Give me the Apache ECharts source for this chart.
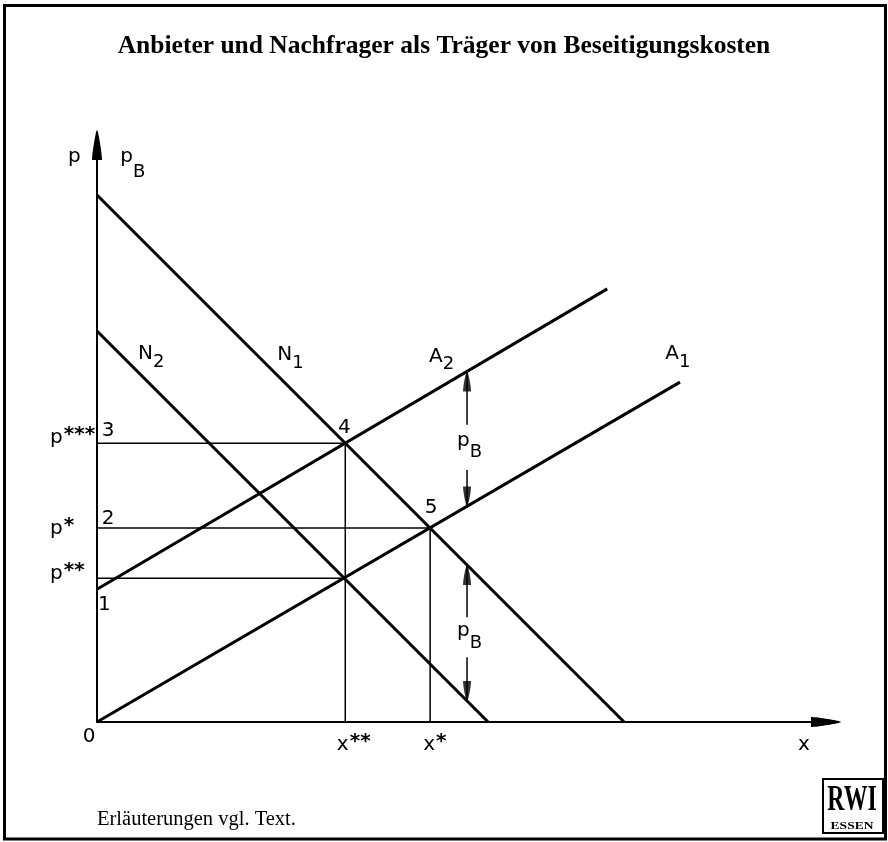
<!DOCTYPE html>
<html>
<head>
<meta charset="utf-8">
<title>Anbieter und Nachfrager als Träger von Beseitigungskosten</title>
<script src="https://cdn.jsdelivr.net/npm/echarts@6/dist/echarts.min.js"></script>
<style>
html, body { margin: 0; padding: 0; background: #fff; }
#chart { width: 888px; height: 842px; }
</style>
</head>
<body>
<div id="chart"></div>
<script>
// Nachfragekurven N1, N2 und Angebotskurven A1, A2 (Endpunkte in x/p-Einheiten)
const curveN1 = [[0, 10.0], [10.0, 0]];
const curveN2 = [[0, 7.42], [7.42, 0]];
const curveA1 = [[0, 0], [11.06, 6.45]];
const curveA2 = [[0, 2.52], [9.68, 8.22]];

// Schnittpunkte: 4 (A2/N1), 5 (A1/N1), A1/N2 und 1 (A2 auf der p-Achse)
const pointFour = [4.71, 5.29];
const pointFive = [6.32, 3.68];
const pointLow  = [4.71, 2.73];
const pointOne  = [0, 2.52];

// Pfeile für die Beseitigungskosten pB: [Schaftanfang, Spitze]
const feeArrows = [
  [[7.02, 5.64], [7.02, 6.65]],
  [[7.02, 4.78], [7.02, 4.09]],
  [[7.02, 1.99], [7.02, 2.98]],
  [[7.02, 1.23], [7.02, 0.40]]
];

// Achsenlänge bis zur Pfeilbasis (x/p-Einheiten)
const xAxisMax = 13.83;
const yAxisMax = 10.95;

const BLACK = '#000';
const FONT = '"DejaVu Sans", sans-serif';
const SERIF = '"Liberation Serif", "Times New Roman", serif';
const arrowHead = 'path://M5,0 C6.2,0 10,24 10,30 L0,30 C0,24 3.8,0 5,0 Z';

function segment(data, width, z) {
  return {
    type: 'line', data: data, symbol: 'none', silent: true, animation: false,
    z: z || 2, clip: false, lineStyle: { color: BLACK, width: width, cap: 'butt' }
  };
}

const series = [
  segment(curveN1, 3, 3),
  segment(curveN2, 3, 3),
  segment(curveA1, 3, 3),
  segment(curveA2, 3, 3),
  // Hilfslinien zu den Achsen
  segment([[0, pointFour[1]], pointFour], 1.5),
  segment([[pointFour[0], 0], pointFour], 1.5),
  segment([[0, pointFive[1]], pointFive], 1.5),
  segment([[pointFive[0], 0], pointFive], 1.5),
  segment([[0, pointLow[1]], pointLow], 1.5)
];
feeArrows.forEach(a => series.push(segment(a, 1.5)));
series.push({
  type: 'scatter', silent: true, animation: false, clip: false, z: 4,
  symbol: 'path://M5,0 C5.8,0 8,14 8,20 L2,20 C2,14 4.2,0 5,0 Z',
  symbolSize: [8, 20],
  itemStyle: { color: BLACK },
  data: feeArrows.map(a => {
    const up = a[1][1] > a[0][1];
    return { value: a[1], symbolRotate: up ? 0 : 180, symbolOffset: [0, up ? 10 : -10] };
  })
});

const chart = echarts.init(document.getElementById('chart'), null, { renderer: 'canvas' });

const axisCommon = {
  type: 'value', min: 0,
  axisTick: { show: false }, axisLabel: { show: false }, splitLine: { show: false }
};

chart.setOption({
  backgroundColor: '#fff',
  animation: false,
  grid: { left: 97, right: 62, top: 145, bottom: 120, containLabel: false },
  xAxis: Object.assign({}, axisCommon, {
    max: xAxisMax,
    axisLine: { show: true, onZero: false, symbol: ['none', arrowHead], symbolSize: [11, 30],
      lineStyle: { color: BLACK, width: 2 } }
  }),
  yAxis: Object.assign({}, axisCommon, {
    max: yAxisMax,
    axisLine: { show: true, onZero: false, symbol: ['none', arrowHead], symbolSize: [12, 30],
      lineStyle: { color: BLACK, width: 2 } }
  }),
  series: series
});

// Beschriftungen: Anker in x/p-Einheiten (linker Rand, Mitte der Schrift)
const annotations = [
  { t: 'p', at: [-0.55, 10.72] },
  { t: 'p', sub: 'B', at: [0.44, 10.72], subDy: 15 },
  { t: 'N', sub: '2', at: [0.78, 6.98] },
  { t: 'N', sub: '1', at: [3.42, 6.96] },
  { t: 'A', sub: '2', at: [6.30, 6.94] },
  { t: 'A', sub: '1', at: [10.78, 6.98] },
  { t: '3', at: [0.09, 5.52] },
  { t: '4', at: [4.57, 5.58] },
  { t: '2', at: [0.09, 3.85] },
  { t: '5', at: [6.22, 4.06] },
  { t: '1', at: [0.02, 2.22] },
  { t: 'p', sup: '***', at: [-0.89, 5.39] },
  { t: 'p', sup: '*', at: [-0.89, 3.66] },
  { t: 'p', sup: '**', at: [-0.89, 2.82] },
  { t: '0', at: [-0.27, -0.28] },
  { t: 'x', sup: '**', at: [4.55, -0.43] },
  { t: 'x', sup: '*', at: [6.19, -0.43] },
  { t: 'x', at: [13.30, -0.43] },
  { t: 'p', sub: 'B', at: [6.83, 5.33], subDy: 11 },
  { t: 'p', sub: 'B', at: [6.83, 1.74], subDy: 13 }
];

const measure = document.createElement('canvas').getContext('2d');
function widthOf(text, font) { measure.font = font; return measure.measureText(text).width; }

const MAIN = '20px ' + FONT;
const SUB = '18px ' + FONT;
const STAR = 'bold 20px ' + FONT;

const graphics = [];
annotations.forEach(a => {
  const px = chart.convertToPixel({ gridIndex: 0 }, a.at);
  graphics.push({ type: 'text', x: px[0], y: px[1], silent: true,
    style: { text: a.t, font: MAIN, fill: BLACK, textAlign: 'left', textVerticalAlign: 'middle' } });
  const w = widthOf(a.t, MAIN);
  if (a.sub) {
    graphics.push({ type: 'text', x: px[0] + w, y: px[1] + (a.subDy || 8), silent: true,
      style: { text: a.sub, font: SUB, fill: BLACK, textAlign: 'left', textVerticalAlign: 'middle' } });
  }
  if (a.sup) {
    graphics.push({ type: 'text', x: px[0] + w + 1, y: px[1] - 3, silent: true,
      style: { text: a.sup, font: STAR, fill: BLACK, textAlign: 'left', textVerticalAlign: 'middle' } });
  }
});

// Rahmen, Titel, Fußnote und Signet
graphics.push(
  { type: 'rect', silent: true, shape: { x: 4.5, y: 5.5, width: 881, height: 833.5 },
    style: { fill: 'none', stroke: BLACK, lineWidth: 3 } },
  { type: 'text', x: 444, y: 46, silent: true,
    style: { text: 'Anbieter und Nachfrager als Träger von Beseitigungskosten',
      font: 'bold 25.5px ' + SERIF, fill: BLACK, textAlign: 'center', textVerticalAlign: 'middle' } },
  { type: 'text', x: 97, y: 820, silent: true,
    style: { text: 'Erläuterungen vgl. Text.', font: '20.5px ' + SERIF, fill: BLACK,
      textAlign: 'left', textVerticalAlign: 'middle' } },
  { type: 'rect', silent: true, shape: { x: 823, y: 779, width: 60, height: 54 },
    style: { fill: 'none', stroke: BLACK, lineWidth: 2 } },
  { type: 'group', x: 852, y: 801, scaleX: 0.66, silent: true,
    children: [
      { type: 'text', x: 0, y: 0, silent: true,
        style: { text: 'RWI', font: 'bold 36px ' + SERIF, fill: BLACK,
          textAlign: 'center', textVerticalAlign: 'middle' } }
    ] },
  { type: 'group', x: 852, y: 826, scaleX: 1.35, silent: true,
    children: [
      { type: 'text', x: 0, y: 0, silent: true,
        style: { text: 'ESSEN', font: 'bold 10px ' + SERIF, fill: BLACK,
          textAlign: 'center', textVerticalAlign: 'middle' } }
    ] }
);

chart.setOption({ graphic: { elements: graphics } });
</script>
</body>
</html>
